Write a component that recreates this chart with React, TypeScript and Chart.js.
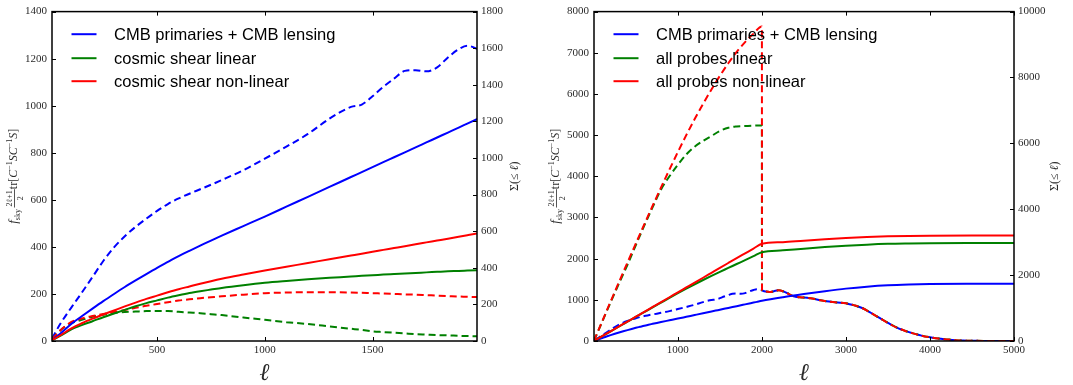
import React, { useEffect, useRef } from "react";
import { Chart, registerables } from "chart.js";

Chart.register(...registerables);

// ---------- cosmic shear panel (ℓ up to 2000) ----------
const SHEAR_ELL = [12, 50, 100, 150, 200, 250, 300, 350, 400, 450, 500, 550, 600, 650, 700, 750, 800, 900, 1000, 1100, 1200, 1300, 1400, 1450, 1500, 1550, 1600, 1650, 1700, 1750, 1800, 1850, 1900, 1940, 2000];

// per-multipole information, f_sky (2ℓ+1)/2 tr[C⁻¹SC⁻¹S]
const CMB_PER_ELL = [10, 72, 140, 205, 272, 340, 398, 445, 485, 520, 553, 582, 606, 626, 645, 664, 684, 726, 775, 826, 880, 945, 995, 1005, 1040, 1080, 1115, 1148, 1151, 1146, 1163, 1205, 1240, 1255, 1236];
const SHEAR_LIN_PER_ELL = [8, 45, 75, 90, 103, 112, 119, 123, 125, 127, 127, 127, 124, 121, 118, 114, 110, 100, 90, 80, 72, 62, 52, 47, 41, 38, 35, 32, 29, 27, 25, 24, 22, 21, 20];
const SHEAR_NL_PER_ELL = [8, 45, 80, 96, 106, 115, 123, 132, 141, 150, 157, 165, 172, 177, 182, 186, 190, 197, 203, 206, 207, 207, 206, 205, 203, 202, 200, 198, 197, 195, 193, 191, 189, 188, 186];

// cumulative Σ(≤ ℓ)
const CMB_SIGMA = [5, 40, 92, 135, 177, 218, 257, 295, 331, 366, 400, 432, 464, 493, 521, 549, 576, 628, 680, 734, 788, 842, 896, 923, 950, 977, 1004, 1031, 1058, 1085, 1112, 1139, 1166, 1188, 1221];
const SHEAR_LIN_SIGMA = [4, 28, 62, 87, 108, 130, 150, 170, 190, 207, 222, 237, 250, 262, 272, 281, 290, 305, 318, 328, 337, 345, 352, 356, 359, 363, 366, 369, 372, 375, 378, 381, 383, 385, 388];
const SHEAR_NL_SIGMA = [4, 30, 68, 97, 122, 145, 167, 189, 210, 230, 248, 266, 283, 298, 313, 327, 340, 363, 385, 406, 426, 447, 467, 477, 488, 498, 508, 518, 529, 539, 549, 559, 570, 578, 590];

// ---------- all probes panel ----------
const PROBES_ELL = [2, 100, 200, 300, 400, 500, 600, 700, 800, 900, 1000, 1100, 1200, 1300, 1400, 1500, 1600, 1700, 1800, 1900, 2000];
const PROBES_LIN_PER_ELL = [5, 470, 940, 1400, 1850, 2330, 2800, 3250, 3680, 4000, 4280, 4530, 4720, 4860, 4980, 5100, 5180, 5210, 5220, 5230, 5235];
const PROBES_NL_PER_ELL = [5, 480, 960, 1435, 1905, 2370, 2830, 3285, 3730, 4165, 4590, 5000, 5390, 5760, 6110, 6440, 6745, 7020, 7260, 7465, 7640];
const PROBES_LIN_SIGMA = [3, 147, 293, 440, 586, 732, 876, 1020, 1165, 1310, 1452, 1590, 1723, 1852, 1978, 2100, 2218, 2337, 2455, 2575, 2697];
const PROBES_NL_SIGMA = [3, 148, 295, 443, 590, 738, 886, 1033, 1180, 1328, 1478, 1625, 1772, 1920, 2070, 2220, 2368, 2515, 2660, 2805, 2951];

// beyond ℓ = 2000 only the CMB contributes
const TAIL_ELL = [2001, 2050, 2100, 2150, 2200, 2250, 2300, 2350, 2400, 2450, 2500, 2600, 2700, 2800, 2900, 3000, 3100, 3200, 3300, 3400, 3500, 3600, 3700, 3800, 3900, 4000, 4100, 4200, 4300, 4400, 4500, 4700, 5000];
const TAIL_PER_ELL = [1231, 1200, 1190, 1215, 1231, 1210, 1165, 1110, 1075, 1062, 1055, 1030, 988, 958, 935, 915, 865, 795, 680, 560, 440, 330, 250, 185, 130, 90, 58, 38, 20, 10, 5, 2, 0];
const SIGMA_TAIL_ELL = [2250, 2500, 2750, 3000, 3250, 3500, 3750, 4000, 4500, 5000];
const CMB_SIGMA_TAIL = [1330, 1425, 1512, 1590, 1650, 1692, 1715, 1728, 1736, 1738];
const PROBES_LIN_SIGMA_TAIL = [2752, 2804, 2850, 2890, 2925, 2950, 2962, 2970, 2974, 2975];
const PROBES_NL_SIGMA_TAIL = [3001, 3047, 3088, 3126, 3158, 3180, 3191, 3196, 3200, 3202];

// tick positions along ℓ
const SHEAR_X_TICKS = [500, 1000, 1500];
const PROBES_X_TICKS = [1000, 2000, 3000, 4000, 5000];

// legend entries
const SHEAR_LABELS = ["CMB primaries + CMB lensing", "cosmic shear linear", "cosmic shear non-linear"];
const PROBES_LABELS = ["CMB primaries + CMB lensing", "all probes linear", "all probes non-linear"];

const BLUE = "#0000ff";
const GREEN = "#008000";
const RED = "#ff0000";
const COLORS = [BLUE, GREEN, RED];
const TEXT = "#2a2a2a";
const SERIF = "'Liberation Serif', 'DejaVu Serif', serif";
const SANS = "'Liberation Sans', Arial, sans-serif";
const H = 385;

const pts = (xs: number[], ys: number[]) => xs.map((x, i) => ({ x, y: ys[i] }));

function line(data: { x: number; y: number }[], color: string, dashed: boolean, order: number) {
  return {
    data,
    borderColor: color,
    backgroundColor: color,
    borderWidth: 2,
    borderDash: dashed ? [7, 4] : [],
    pointRadius: 0,
    fill: false,
    yAxisID: dashed ? "y" : "y1",
    order,
    cubicInterpolationMode: "monotone" as const,
  };
}

type Seg = { text: string; size: number; italic?: boolean; dy?: number } | { num: string; den: string; size: number };

const LEFT_TITLE: Seg[] = [
  { text: "f", size: 13, italic: true },
  { text: "sky", size: 8, dy: 3 },
  { text: " ", size: 6 },
  { num: "2ℓ+1", den: "2", size: 8 },
  { text: "tr", size: 12 },
  { text: "[", size: 12 },
  { text: "C", size: 12, italic: true },
  { text: "−1", size: 8, dy: -5 },
  { text: "SC", size: 12, italic: true },
  { text: "−1", size: 8, dy: -5 },
  { text: "S", size: 12, italic: true },
  { text: "]", size: 12 },
];

const RIGHT_TITLE: Seg[] = [
  { text: "Σ(≤ ", size: 12 },
  { text: "ℓ", size: 12, italic: true },
  { text: ")", size: 12 },
];

function fontOf(size: number, italic?: boolean) {
  return `${italic ? "italic " : ""}${size}px ${SERIF}`;
}

// draws a composed label rotated to read bottom-to-top, centred on (cx, cy)
function drawVerticalLabel(ctx: CanvasRenderingContext2D, segs: Seg[], cx: number, cy: number) {
  const widths = segs.map((s) => {
    if ("num" in s) {
      ctx.font = fontOf(s.size);
      return Math.max(ctx.measureText(s.num).width, ctx.measureText(s.den).width) + 2;
    }
    ctx.font = fontOf(s.size, s.italic);
    return ctx.measureText(s.text).width;
  });
  const total = widths.reduce((a, b) => a + b, 0);
  ctx.save();
  ctx.translate(cx, cy);
  ctx.rotate(-Math.PI / 2);
  ctx.fillStyle = TEXT;
  ctx.strokeStyle = TEXT;
  ctx.textBaseline = "alphabetic";
  let x = -total / 2;
  segs.forEach((s, i) => {
    const w = widths[i];
    if ("num" in s) {
      ctx.font = fontOf(s.size);
      ctx.textAlign = "center";
      ctx.fillText(s.num, x + w / 2, -1.5);
      ctx.fillText(s.den, x + w / 2, 10);
      ctx.lineWidth = 0.8;
      ctx.beginPath();
      ctx.moveTo(x, 1.5);
      ctx.lineTo(x + w, 1.5);
      ctx.stroke();
      ctx.textAlign = "left";
    } else {
      ctx.font = fontOf(s.size, s.italic);
      ctx.textAlign = "left";
      ctx.fillText(s.text, x, 4 + (s.dy || 0));
    }
    x += w;
  });
  ctx.restore();
}

function decor(labels: string[], sigmaOffset: number) {
  return {
    id: "decor",
    afterDraw(chart: any) {
      const { ctx, chartArea: a } = chart;
      const sx = chart.scales.x;
      const sy = chart.scales.y;
      const sy1 = chart.scales.y1;
      ctx.save();

      // inward tick marks on all four sides
      ctx.strokeStyle = "#000";
      ctx.lineWidth = 1;
      ctx.beginPath();
      sx.ticks.forEach((t: any) => {
        const p = Math.round(sx.getPixelForValue(t.value)) + 0.5;
        ctx.moveTo(p, a.bottom);
        ctx.lineTo(p, a.bottom - 4);
        ctx.moveTo(p, a.top);
        ctx.lineTo(p, a.top + 4);
      });
      sy.ticks.forEach((t: any) => {
        const p = Math.round(sy.getPixelForValue(t.value)) + 0.5;
        ctx.moveTo(a.left, p);
        ctx.lineTo(a.left + 4, p);
      });
      sy1.ticks.forEach((t: any) => {
        const p = Math.round(sy1.getPixelForValue(t.value)) + 0.5;
        ctx.moveTo(a.right, p);
        ctx.lineTo(a.right - 4, p);
      });
      ctx.stroke();

      // frame
      ctx.lineWidth = 1.5;
      ctx.strokeRect(a.left, a.top, a.right - a.left, a.bottom - a.top);

      // legend
      const rows = [22.6, 46.6, 69.6];
      labels.forEach((label, i) => {
        const y = a.top + rows[i];
        ctx.strokeStyle = COLORS[i];
        ctx.lineWidth = 2;
        ctx.setLineDash([]);
        ctx.beginPath();
        ctx.moveTo(a.left + 19.5, y);
        ctx.lineTo(a.left + 44.5, y);
        ctx.stroke();
        ctx.fillStyle = "#000";
        ctx.font = `16.5px ${SANS}`;
        ctx.textAlign = "left";
        ctx.textBaseline = "alphabetic";
        ctx.fillText(label, a.left + 62, y + 6);
      });

      // axis titles
      const cy = (a.top + a.bottom) / 2;
      drawVerticalLabel(ctx, LEFT_TITLE, a.left - 39, cy);
      drawVerticalLabel(ctx, RIGHT_TITLE, a.right + sigmaOffset, cy);
      ctx.fillStyle = TEXT;
      ctx.font = fontOf(24, true);
      ctx.textAlign = "center";
      ctx.textBaseline = "alphabetic";
      ctx.fillText("ℓ", (a.left + a.right) / 2, 380);

      ctx.restore();
    },
  };
}

type Axes = {
  xMin: number; xMax: number; xTicks: number[];
  yMax: number; yStep: number; y1Max: number; y1Step: number;
  yW: number; y1W: number;
};

function scales(o: Axes) {
  const font = { family: SERIF, size: 11 };
  const grid = { display: false, drawTicks: false };
  const border = { display: false };
  const fmt = (v: any) => String(v);
  return {
    x: {
      type: "linear", min: o.xMin, max: o.xMax, grid, border,
      ticks: { font, color: TEXT, padding: 3, maxRotation: 0, autoSkip: false, callback: fmt },
      afterBuildTicks: (s: any) => { s.ticks = o.xTicks.map((v) => ({ value: v })); },
      afterFit: (s: any) => { s.height = 44; },
    },
    y: {
      type: "linear", position: "left", min: 0, max: o.yMax, grid, border,
      ticks: { stepSize: o.yStep, font, color: TEXT, padding: 5, autoSkip: false, callback: fmt },
      afterFit: (s: any) => { s.width = o.yW; },
    },
    y1: {
      type: "linear", position: "right", min: 0, max: o.y1Max, grid, border,
      ticks: { stepSize: o.y1Step, font, color: TEXT, padding: 4, autoSkip: false, callback: fmt },
      afterFit: (s: any) => { s.width = o.y1W; },
    },
  };
}

function config(datasets: any[], axes: Axes, labels: string[], sigmaOffset: number): any {
  return {
    type: "line",
    data: { datasets },
    options: {
      responsive: false,
      animation: false,
      devicePixelRatio: 1,
      events: [],
      layout: { padding: { top: 11, left: 0, right: 0, bottom: 0 } },
      plugins: { legend: { display: false }, tooltip: { enabled: false }, title: { display: false } },
      scales: scales(axes),
    },
    plugins: [decor(labels, sigmaOffset)],
  };
}

function shearConfig() {
  const datasets = [
    line(pts(SHEAR_ELL, SHEAR_NL_SIGMA), RED, false, 0),
    line(pts(SHEAR_ELL, SHEAR_LIN_SIGMA), GREEN, false, 1),
    line(pts(SHEAR_ELL, CMB_SIGMA), BLUE, false, 2),
    line(pts(SHEAR_ELL, SHEAR_NL_PER_ELL), RED, true, 3),
    line(pts(SHEAR_ELL, SHEAR_LIN_PER_ELL), GREEN, true, 4),
    line(pts(SHEAR_ELL, CMB_PER_ELL), BLUE, true, 5),
  ];
  return config(
    datasets,
    { xMin: 12, xMax: 1985, xTicks: SHEAR_X_TICKS, yMax: 1400, yStep: 200, y1Max: 1800, y1Step: 200, yW: 52, y1W: 63 },
    SHEAR_LABELS,
    36.5
  );
}

function probesConfig() {
  const datasets = [
    line(pts([...PROBES_ELL, ...SIGMA_TAIL_ELL], [...PROBES_NL_SIGMA, ...PROBES_NL_SIGMA_TAIL]), RED, false, 0),
    line(pts([...PROBES_ELL, ...SIGMA_TAIL_ELL], [...PROBES_LIN_SIGMA, ...PROBES_LIN_SIGMA_TAIL]), GREEN, false, 1),
    line(pts([...SHEAR_ELL, ...SIGMA_TAIL_ELL], [...CMB_SIGMA, ...CMB_SIGMA_TAIL]), BLUE, false, 2),
    line(pts([...PROBES_ELL, ...TAIL_ELL], [...PROBES_NL_PER_ELL, ...TAIL_PER_ELL]), RED, true, 3),
    line(pts([...PROBES_ELL, ...TAIL_ELL], [...PROBES_LIN_PER_ELL, ...TAIL_PER_ELL]), GREEN, true, 4),
    line(pts([...SHEAR_ELL, ...TAIL_ELL], [...CMB_PER_ELL, ...TAIL_PER_ELL]), BLUE, true, 5),
  ];
  return config(
    datasets,
    { xMin: 2, xMax: 5000, xTicks: PROBES_X_TICKS, yMax: 8000, yStep: 1000, y1Max: 10000, y1Step: 2000, yW: 54, y1W: 59 },
    PROBES_LABELS,
    40
  );
}

function Panel({ left, width, make }: { left: number; width: number; make: () => any }) {
  const ref = useRef<HTMLCanvasElement>(null);
  useEffect(() => {
    if (!ref.current) return;
    const chart = new Chart(ref.current, make());
    return () => chart.destroy();
  }, []);
  return (
    <canvas
      ref={ref}
      width={width}
      height={H}
      style={{ position: "absolute", left, top: 0, width, height: H, display: "block" }}
    />
  );
}

export default function App() {
  return (
    <div style={{ position: "absolute", left: 0, top: 0, width: 1073, height: H, background: "#fff" }}>
      <Panel left={0} width={540} make={shearConfig} />
      <Panel left={540} width={533} make={probesConfig} />
    </div>
  );
}
